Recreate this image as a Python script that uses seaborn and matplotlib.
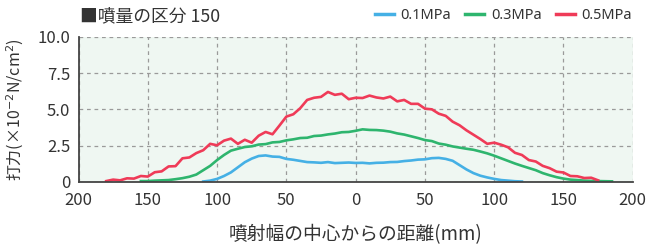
import numpy as np
import pandas as pd
import matplotlib
matplotlib.use("Agg")
import matplotlib.pyplot as plt
import seaborn as sns

# === データ ===
DIST = list(range(-180, 190, 5))  # 噴射幅の中心からの距離 (mm)

P01 = [np.nan] * 14 + [
    0.02, 0.08, 0.20, 0.40, 0.65, 1.00, 1.35, 1.60, 1.78, 1.82,
    1.74, 1.72, 1.58, 1.52, 1.44, 1.36, 1.34, 1.31, 1.36, 1.29,
    1.31, 1.33, 1.30, 1.31, 1.27, 1.31, 1.32, 1.36, 1.37, 1.43,
    1.47, 1.53, 1.55, 1.63, 1.65, 1.58, 1.45, 1.15, 0.85, 0.60,
    0.42, 0.30, 0.20, 0.12, 0.08, 0.04, 0.02,
] + [np.nan] * 13

P03 = [np.nan] * 5 + [
    0.05, 0.05, 0.08, 0.10, 0.12, 0.18, 0.25, 0.35, 0.50, 0.80,
    1.10, 1.50, 1.85, 2.15, 2.28, 2.40, 2.45, 2.57, 2.60, 2.72,
    2.75, 2.86, 2.93, 3.02, 3.04, 3.16, 3.19, 3.27, 3.33, 3.42,
    3.44, 3.52, 3.62, 3.58, 3.57, 3.53, 3.46, 3.34, 3.26, 3.14,
    3.02, 2.88, 2.81, 2.64, 2.56, 2.44, 2.36, 2.28, 2.21, 2.09,
    1.96, 1.80, 1.62, 1.44, 1.26, 1.10, 0.95, 0.80, 0.60, 0.45,
    0.32, 0.22, 0.15, 0.12, 0.08, 0.06, 0.05, 0.04, 0.03,
]

P05 = [
    0.05, 0.15, 0.10, 0.24, 0.22, 0.40, 0.36, 0.66, 0.72, 1.06,
    1.08, 1.62, 1.68, 1.98, 2.18, 2.62, 2.52, 2.84, 2.98, 2.62,
    2.90, 2.70, 3.18, 3.44, 3.28, 3.88, 4.50, 4.66, 5.08, 5.65,
    5.80, 5.86, 6.20, 6.00, 6.08, 5.70, 5.80, 5.78, 5.95, 5.82,
    5.75, 5.88, 5.55, 5.65, 5.38, 5.38, 5.05, 5.00, 4.70, 4.55,
    4.15, 3.90, 3.55, 3.25, 2.95, 2.62, 2.70, 2.56, 2.38, 2.00,
    1.85, 1.50, 1.40, 1.10, 0.94, 0.70, 0.64, 0.40, 0.38, 0.26,
    0.28, 0.10, np.nan, np.nan,
]

SERIES = ["0.1MPa", "0.3MPa", "0.5MPa"]
COLORS = ["#45b0e5", "#2eb56e", "#ef3b58"]

XTICKS = [-200, -150, -100, -50, 0, 50, 100, 150, 200]
XTICK_LABELS = ["200", "150", "100", "50", "0", "50", "100", "150", "200"]
YTICKS = [0, 2.5, 5.0, 7.5, 10.0]
YTICK_LABELS = ["0", "2.5", "5.0", "7.5", "10.0"]

JP = ["Noto Sans CJK JP", "DejaVu Sans"]
TXT = "#333333"

# === データフレーム ===
frames = []
for name, vals in zip(SERIES, [P01, P03, P05]):
    frames.append(pd.DataFrame({"dist": DIST, "force": vals, "series": name}))
df = pd.concat(frames, ignore_index=True).dropna()

# === グラフ ===
fig = plt.figure(figsize=(6.49, 2.46), dpi=100)
ax = fig.add_axes([0.121, 0.261, 0.854, 0.589])
ax.set_facecolor("#eff7f2")

sns.lineplot(data=df, x="dist", y="force", hue="series", hue_order=SERIES,
             palette=COLORS, linewidth=1.9, legend=False, ax=ax, zorder=3)

ax.set_xlim(-200, 200)
ax.set_ylim(0, 10)
ax.set_xticks(XTICKS, labels=XTICK_LABELS)
ax.set_yticks(YTICKS, labels=YTICK_LABELS)
ax.tick_params(length=0, labelsize=12, colors=TXT)
ax.tick_params(axis="x", pad=7)
ax.tick_params(axis="y", pad=6)
for lab in ax.get_xticklabels() + ax.get_yticklabels():
    lab.set_family(JP)

ax.grid(True, color="#9a9a9a", linestyle=(0, (3, 3)), linewidth=0.9, zorder=1)
ax.set_axisbelow(True)

for s in ["top", "right"]:
    ax.spines[s].set_visible(False)
for s in ["left", "bottom"]:
    ax.spines[s].set_color("#444444")
    ax.spines[s].set_linewidth(1.3)
    ax.spines[s].set_zorder(4)

ax.set_xlabel("噴射幅の中心からの距離(mm)", family="Noto Sans CJK JP", fontsize=13.5, color=TXT)
ax.xaxis.set_label_coords(0.5, -0.29)
ax.set_ylabel("打力(×10$^{-2}$N/cm$^{2}$)", family="Noto Sans CJK JP", fontsize=11.5, color=TXT)
ax.yaxis.set_label_coords(-0.095, 0.5)

fig.text(0.123, 0.935, "■噴量の区分 150", family=JP, fontsize=12.8, color=TXT,
         ha="left", va="center")

handles = [plt.Line2D([], [], color=c, linewidth=2.5) for c in COLORS]
fig.legend(handles, SERIES, loc="center right", bbox_to_anchor=(0.974, 0.935),
           ncol=3, frameon=False, handlelength=1.3, handletextpad=0.45,
           columnspacing=1.0, borderaxespad=0, borderpad=0, labelcolor=TXT,
           prop={"family": "Noto Sans", "size": 10.5})

fig.savefig("out.png", dpi=100)
